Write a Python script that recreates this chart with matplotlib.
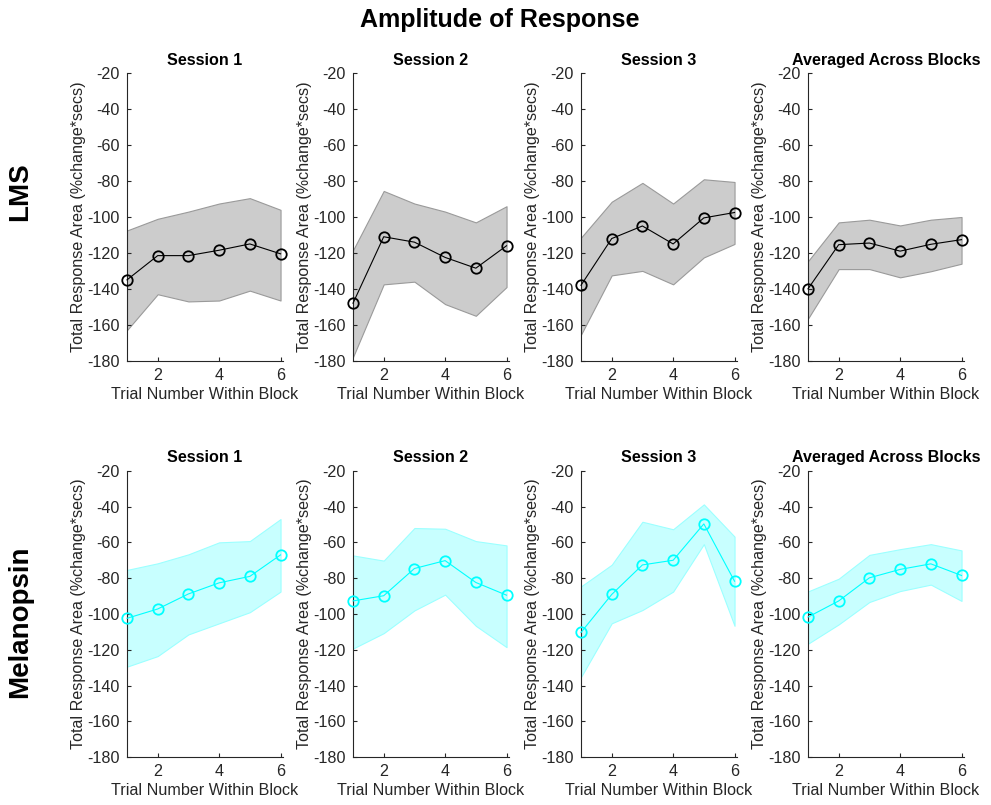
import matplotlib
matplotlib.use("Agg")
import matplotlib.pyplot as plt
import numpy as np

plt.rcParams['font.family'] = ['Liberation Sans', 'DejaVu Sans']
plt.rcParams['axes.unicode_minus'] = False

trials = [1, 2, 3, 4, 5, 6]
panel_titles = ["Session 1", "Session 2", "Session 3", "Averaged Across Blocks"]
row_labels = ["LMS", "Melanopsin"]

# LMS row: mean, upper and lower band edges
lms_mean = [
    [-135, -121.5, -121.5, -118.5, -115, -120.5],
    [-148, -111, -114, -122.5, -128.5, -116],
    [-138, -112, -105, -115, -100.5, -97.5],
    [-140, -115.4, -114.5, -119, -115.2, -112.6],
]
lms_upper = [
    [-107.5, -101, -97, -92.5, -89.5, -96],
    [-118.5, -85.5, -92.5, -97, -103, -94],
    [-111.5, -91.5, -81, -92.5, -79, -80.5],
    [-124.6, -103, -101.5, -104.7, -101.5, -100],
]
lms_lower = [
    [-163, -143, -147, -146.5, -141, -146.5],
    [-178, -137.5, -136, -148.5, -155, -139],
    [-165.5, -132.5, -130, -137.5, -122.5, -115],
    [-156.6, -129, -129, -133.6, -130.2, -126],
]

# Melanopsin row
mel_mean = [
    [-102.4, -97.2, -88.8, -82.6, -79, -67],
    [-92.7, -89.8, -74.6, -70.2, -82.4, -89.5],
    [-110.3, -89.1, -72.6, -70, -49.7, -81.7],
    [-101.7, -92.7, -79.8, -75.1, -72, -78.5],
]
mel_upper = [
    [-75.4, -71.7, -66.7, -60, -59.3, -47],
    [-67.3, -70.2, -52, -52.4, -59.3, -61.7],
    [-84.6, -72.5, -48.5, -52.7, -38.8, -56.8],
    [-87.4, -80.3, -67, -63.8, -61, -64.5],
]
mel_lower = [
    [-129.4, -123.5, -111.4, -105.2, -99, -87.5],
    [-119.3, -110.7, -98, -89.2, -106.6, -118.5],
    [-135.2, -105.2, -97.8, -87.5, -61, -106.6],
    [-116.6, -105.8, -93.3, -87.2, -83.6, -92.7],
]

yticks = list(range(-180, 0, 20))
xticks = [2, 4, 6]

W, H = 991, 805
fig = plt.figure(figsize=(W / 100, H / 100), dpi=100)

lefts_px = [127, 353, 581, 808]
width_px = 156
rows = [
    dict(bottom=1 - 360.7 / H, height=(360.7 - 73.3) / H,
         mean=lms_mean, up=lms_upper, lo=lms_lower,
         line='black', fill='#cccccc', edge='#9a9a9a'),
    dict(bottom=1 - 757.3 / H, height=(757.3 - 470.7) / H,
         mean=mel_mean, up=mel_upper, lo=mel_lower,
         line='#00ffff', fill='#c8ffff', edge='#9cffff'),
]

axc = '#262626'
fs = 11.6
for r, row in enumerate(rows):
    for p in range(4):
        ax = fig.add_axes([lefts_px[p] / W, row['bottom'], width_px / W, row['height']])
        ax.fill_between(trials, row['lo'][p], row['up'][p], facecolor=row['fill'],
                        edgecolor=row['edge'], linewidth=0.8, zorder=1)
        ax.plot(trials, row['mean'][p], color=row['line'], linewidth=0.8,
                marker='o', markersize=7.5, markerfacecolor='none',
                markeredgecolor=row['line'], markeredgewidth=1.3,
                clip_on=False, zorder=3)
        ax.set_xlim(1, 6.08)
        ax.set_ylim(-180, -20)
        ax.set_xticks(xticks)
        ax.set_yticks(yticks)
        for s in ['top', 'right']:
            ax.spines[s].set_visible(False)
        for s in ['left', 'bottom']:
            ax.spines[s].set_color(axc)
            ax.spines[s].set_linewidth(0.8)
        ax.tick_params(direction='in', length=3, width=0.8, colors=axc,
                       labelsize=fs, labelcolor=axc, pad=5)
        ax.set_xlabel("Trial Number Within Block", fontsize=fs, color=axc, labelpad=3)
        ax.set_ylabel("Total Response Area (%change*secs)", fontsize=fs, color=axc, labelpad=1)
        ax.set_title(panel_titles[p], fontsize=fs, fontweight='bold', pad=6)

fig.text(500 / W, 1 - 20 / H, "Amplitude of Response", ha='center', va='center',
         fontsize=18, fontweight='bold')
fig.text(20 / W, 1 - 192 / H, row_labels[0], ha='center', va='center',
         rotation=90, fontsize=20, fontweight='bold')
fig.text(20 / W, 1 - 622 / H, row_labels[1], ha='center', va='center',
         rotation=90, fontsize=20, fontweight='bold')

fig.savefig("out.png", dpi=100, facecolor='white')
